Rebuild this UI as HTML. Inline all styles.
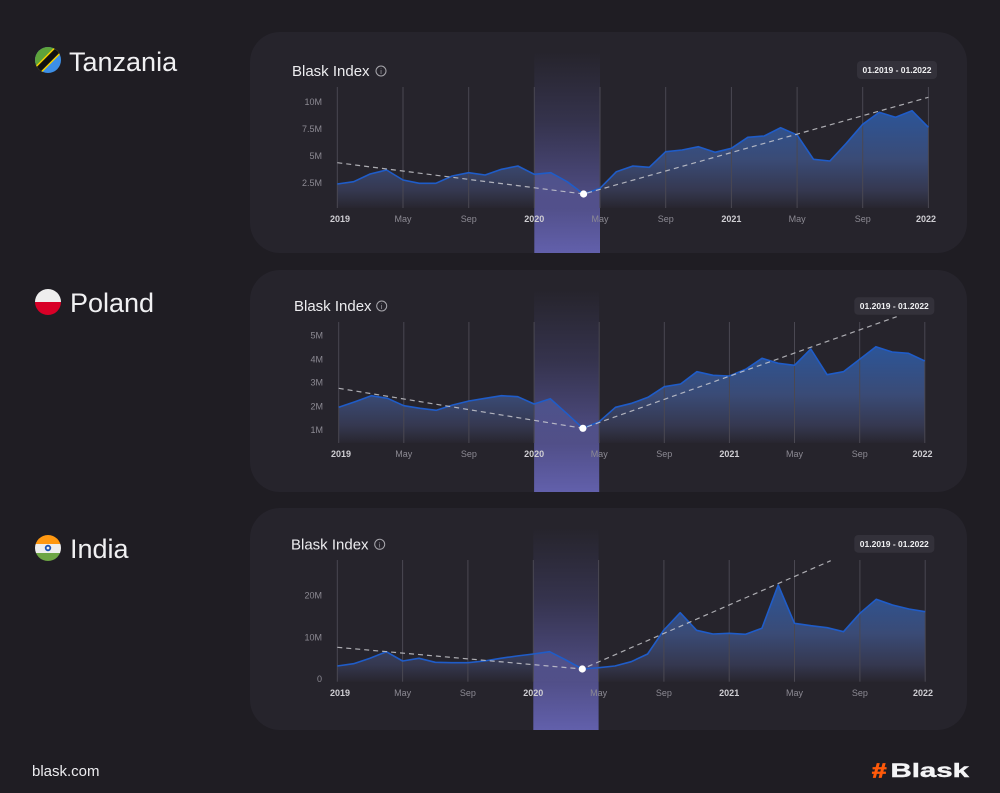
<!DOCTYPE html>
<html><head><meta charset="utf-8"><style>
html,body{margin:0;padding:0;background:#1f1d23;}
svg{display:block;}
text{font-family:"Liberation Sans",sans-serif;}
</style></head><body>
<svg width="1000" height="793" viewBox="0 0 1000 793" xmlns="http://www.w3.org/2000/svg">
<defs>
<linearGradient id="fill" x1="0" y1="0" x2="0" y2="1">
<stop offset="0" stop-color="#2c5598"/>
<stop offset="0.5" stop-color="#3a4b76"/>
<stop offset="0.82" stop-color="#353850"/>
<stop offset="1" stop-color="#28262f"/>
</linearGradient>
<linearGradient id="band" x1="0" y1="0" x2="0" y2="1">
<stop offset="0" stop-color="#6260b0" stop-opacity="0"/>
<stop offset="0.35" stop-color="#6260b0" stop-opacity="0.25"/>
<stop offset="1" stop-color="#6563b2" stop-opacity="0.95"/>
</linearGradient>
<clipPath id="tzc"><circle cx="48" cy="60" r="13"/></clipPath>
<clipPath id="plc"><circle cx="48" cy="302" r="13"/></clipPath>
<clipPath id="inc"><circle cx="48" cy="548" r="13"/></clipPath>
</defs>
<rect width="1000" height="793" fill="#1f1d23"/>

<!-- Left titles -->
<g clip-path="url(#tzc)">
<rect x="35" y="47" width="26" height="26" fill="#3d8fe6"/>
<polygon points="35,47 61,47 35,73" fill="#5ea33b"/>
<line x1="33" y1="75" x2="63" y2="45" stroke="#f5d000" stroke-width="9"/>
<line x1="33" y1="75" x2="63" y2="45" stroke="#111" stroke-width="6"/>
</g>
<text x="69" y="71" font-size="27" font-weight="500" fill="#f0f0f2">Tanzania</text>

<g clip-path="url(#plc)">
<rect x="35" y="289" width="26" height="13" fill="#eeeeee"/>
<rect x="35" y="302" width="26" height="13" fill="#d80027"/>
</g>
<text x="70" y="312" font-size="27" font-weight="500" fill="#f0f0f2">Poland</text>

<g clip-path="url(#inc)">
<rect x="35" y="535" width="26" height="9" fill="#ff9811"/>
<rect x="35" y="544" width="26" height="9" fill="#eeeeee"/>
<rect x="35" y="553" width="26" height="9" fill="#6da544"/>
<circle cx="48" cy="548" r="3.2" fill="#1a4fb0"/>
<circle cx="48" cy="548" r="1.4" fill="#eeeeee"/>
</g>
<text x="70" y="558" font-size="27" font-weight="500" fill="#f0f0f2">India</text>

<!-- ============ PANEL 1 ============ -->
<rect x="250" y="32" width="717" height="221" rx="30" fill="#26242c"/>
<text x="292" y="76" font-size="15" fill="#ececef">Blask Index</text>
<circle cx="381" cy="71" r="5" fill="none" stroke="#a8a7ad" stroke-width="1"/>
<text x="381" y="74" font-size="7" fill="#a8a7ad" text-anchor="middle">i</text>
<rect x="857" y="61" width="80" height="18" rx="4" fill="#33313a"/>
<text x="897" y="73" font-size="8.5" font-weight="bold" fill="#f0f0f2" text-anchor="middle">01.2019 - 01.2022</text>
<path d="M337.3,184 L353.7,181.7 L370.1,174 L386.6,170 L403,180 L419.4,183.3 L435.8,183.3 L452.2,176 L468.7,172.7 L485.1,175 L501.5,169.3 L517.9,166 L534.3,174.3 L550.8,172.7 L567.2,181.7 L583.6,194 L600,188.3 L616.4,171.7 L632.9,166 L649.3,167.3 L665.7,151.7 L682.1,150 L698.5,146.7 L715,152.3 L731.4,148.3 L747.8,137.3 L764.2,136 L780.6,127.7 L797.1,135 L813.5,159.3 L829.9,161 L846.3,143.3 L862.7,124.3 L879.2,112.3 L895.6,117.3 L912,110.7 L928.4,127.3 L928.4,208 L337.3,208 Z" fill="url(#fill)"/>
<rect x="534.3" y="52" width="65.7" height="201" fill="url(#band)"/>
<g stroke="#4a4852" stroke-width="1">
<line x1="337.3" y1="87" x2="337.3" y2="208"/><line x1="403" y1="87" x2="403" y2="208"/><line x1="468.7" y1="87" x2="468.7" y2="208"/><line x1="534.3" y1="87" x2="534.3" y2="208"/><line x1="600" y1="87" x2="600" y2="208"/><line x1="665.7" y1="87" x2="665.7" y2="208"/><line x1="731.4" y1="87" x2="731.4" y2="208"/><line x1="797.1" y1="87" x2="797.1" y2="208"/><line x1="862.7" y1="87" x2="862.7" y2="208"/><line x1="928.4" y1="87" x2="928.4" y2="208"/>
</g>
<polyline points="337.3,184 353.7,181.7 370.1,174 386.6,170 403,180 419.4,183.3 435.8,183.3 452.2,176 468.7,172.7 485.1,175 501.5,169.3 517.9,166 534.3,174.3 550.8,172.7 567.2,181.7 583.6,194 600,188.3 616.4,171.7 632.9,166 649.3,167.3 665.7,151.7 682.1,150 698.5,146.7 715,152.3 731.4,148.3 747.8,137.3 764.2,136 780.6,127.7 797.1,135 813.5,159.3 829.9,161 846.3,143.3 862.7,124.3 879.2,112.3 895.6,117.3 912,110.7 928.4,127.3" fill="none" stroke="#1f5cc8" stroke-width="1.6" stroke-linejoin="round"/>
<polyline points="337.3,162.7 583.6,194 928.4,97.3" fill="none" stroke="#cfcfd4" stroke-opacity="0.8" stroke-width="1.2" stroke-dasharray="5 4"/>
<circle cx="583.6" cy="194" r="3.6" fill="#ffffff"/>
<g font-size="9" fill="#8c8a93" text-anchor="end">
<text x="322" y="105">10M</text><text x="322" y="132">7.5M</text><text x="322" y="159">5M</text><text x="322" y="186">2.5M</text>
</g>
<g font-size="9" text-anchor="middle">
<text x="340" y="222" fill="#cfced3" font-weight="bold">2019</text>
<text x="403" y="222" fill="#8c8a93">May</text>
<text x="468.7" y="222" fill="#8c8a93">Sep</text>
<text x="534.3" y="222" fill="#cfced3" font-weight="bold">2020</text>
<text x="600" y="222" fill="#8c8a93">May</text>
<text x="665.7" y="222" fill="#8c8a93">Sep</text>
<text x="731.4" y="222" fill="#cfced3" font-weight="bold">2021</text>
<text x="797.1" y="222" fill="#8c8a93">May</text>
<text x="862.7" y="222" fill="#8c8a93">Sep</text>
<text x="926" y="222" fill="#cfced3" font-weight="bold">2022</text>
</g>

<!-- ============ PANEL 2 ============ -->
<rect x="250" y="270" width="717" height="222" rx="30" fill="#26242c"/>
<text x="294" y="311" font-size="15" fill="#ececef">Blask Index</text>
<circle cx="381.7" cy="306" r="5" fill="none" stroke="#a8a7ad" stroke-width="1"/>
<text x="381.7" y="309" font-size="7" fill="#a8a7ad" text-anchor="middle">i</text>
<rect x="854.3" y="297.3" width="80" height="17.5" rx="4" fill="#33313a"/>
<text x="894.3" y="309" font-size="8.5" font-weight="bold" fill="#f0f0f2" text-anchor="middle">01.2019 - 01.2022</text>
<path d="M338.7,407.3 L355,401.7 L371.3,395.7 L387.5,398.3 L403.8,405.7 L420.1,408.3 L436.4,410.3 L452.7,405 L468.9,401 L485.2,398.3 L501.5,395.7 L517.8,396.7 L534.1,404 L550.3,398.7 L566.6,413.3 L582.9,428.3 L599.2,421.7 L615.5,407.3 L631.7,403.3 L648,397.3 L664.3,386.7 L680.6,384 L696.9,371.7 L713.1,375.3 L729.4,376 L745.7,369.3 L762,358.3 L778.3,363.3 L794.5,365.3 L810.8,349 L827.1,374.7 L843.4,371.7 L859.7,359.3 L875.9,346.7 L892.2,352 L908.5,353.3 L924.8,361 L924.8,443 L338.7,443 Z" fill="url(#fill)"/>
<rect x="534.1" y="290" width="65.1" height="202" fill="url(#band)"/>
<g stroke="#4a4852" stroke-width="1">
<line x1="338.7" y1="322" x2="338.7" y2="443"/><line x1="403.8" y1="322" x2="403.8" y2="443"/><line x1="468.9" y1="322" x2="468.9" y2="443"/><line x1="534.1" y1="322" x2="534.1" y2="443"/><line x1="599.2" y1="322" x2="599.2" y2="443"/><line x1="664.3" y1="322" x2="664.3" y2="443"/><line x1="729.4" y1="322" x2="729.4" y2="443"/><line x1="794.5" y1="322" x2="794.5" y2="443"/><line x1="859.7" y1="322" x2="859.7" y2="443"/><line x1="924.8" y1="322" x2="924.8" y2="443"/>
</g>
<polyline points="338.7,407.3 355,401.7 371.3,395.7 387.5,398.3 403.8,405.7 420.1,408.3 436.4,410.3 452.7,405 468.9,401 485.2,398.3 501.5,395.7 517.8,396.7 534.1,404 550.3,398.7 566.6,413.3 582.9,428.3 599.2,421.7 615.5,407.3 631.7,403.3 648,397.3 664.3,386.7 680.6,384 696.9,371.7 713.1,375.3 729.4,376 745.7,369.3 762,358.3 778.3,363.3 794.5,365.3 810.8,349 827.1,374.7 843.4,371.7 859.7,359.3 875.9,346.7 892.2,352 908.5,353.3 924.8,361" fill="none" stroke="#1f5cc8" stroke-width="1.6" stroke-linejoin="round"/>
<polyline points="338.7,388.3 582.9,428.3 896.7,316.7" fill="none" stroke="#cfcfd4" stroke-opacity="0.8" stroke-width="1.2" stroke-dasharray="5 4"/>
<circle cx="582.9" cy="428.3" r="3.6" fill="#ffffff"/>
<g font-size="9" fill="#8c8a93" text-anchor="end">
<text x="323" y="338.7">5M</text><text x="323" y="362.3">4M</text><text x="323" y="385.7">3M</text><text x="323" y="409.7">2M</text><text x="323" y="433">1M</text>
</g>
<g font-size="9" text-anchor="middle">
<text x="341" y="457" fill="#cfced3" font-weight="bold">2019</text>
<text x="403.8" y="457" fill="#8c8a93">May</text>
<text x="468.9" y="457" fill="#8c8a93">Sep</text>
<text x="534.1" y="457" fill="#cfced3" font-weight="bold">2020</text>
<text x="599.2" y="457" fill="#8c8a93">May</text>
<text x="664.3" y="457" fill="#8c8a93">Sep</text>
<text x="729.4" y="457" fill="#cfced3" font-weight="bold">2021</text>
<text x="794.5" y="457" fill="#8c8a93">May</text>
<text x="859.7" y="457" fill="#8c8a93">Sep</text>
<text x="922.5" y="457" fill="#cfced3" font-weight="bold">2022</text>
</g>

<!-- ============ PANEL 3 ============ -->
<rect x="250" y="508" width="717" height="222" rx="30" fill="#26242c"/>
<text x="291" y="549.5" font-size="15" fill="#ececef">Blask Index</text>
<circle cx="379.7" cy="544.3" r="5" fill="none" stroke="#a8a7ad" stroke-width="1"/>
<text x="379.7" y="547.3" font-size="7" fill="#a8a7ad" text-anchor="middle">i</text>
<rect x="854.3" y="535" width="80" height="17.7" rx="4" fill="#33313a"/>
<text x="894.3" y="547" font-size="8.5" font-weight="bold" fill="#f0f0f2" text-anchor="middle">01.2019 - 01.2022</text>
<path d="M337.3,666 L353.6,663.7 L370,658.3 L386.3,651.7 L402.6,661 L419,658.3 L435.3,662.3 L451.6,662.7 L467.9,662.7 L484.3,661 L500.6,658.3 L516.9,656 L533.3,654 L549.6,651.7 L565.9,660 L582.3,669 L598.6,667.7 L614.9,666 L631.2,661.7 L647.6,654 L663.9,630 L680.2,612.7 L696.6,630.3 L712.9,634 L729.2,633.3 L745.6,634.3 L761.9,628.3 L778.2,585 L794.5,623.3 L810.9,625.7 L827.2,627.7 L843.5,631.7 L859.9,613.3 L876.2,599.3 L892.5,605 L908.9,609 L925.2,611.7 L925.2,681.7 L337.3,681.7 Z" fill="url(#fill)"/>
<rect x="533.3" y="528" width="65.3" height="202" fill="url(#band)"/>
<g stroke="#4a4852" stroke-width="1">
<line x1="337.3" y1="560" x2="337.3" y2="681.7"/><line x1="402.6" y1="560" x2="402.6" y2="681.7"/><line x1="467.9" y1="560" x2="467.9" y2="681.7"/><line x1="533.3" y1="560" x2="533.3" y2="681.7"/><line x1="598.6" y1="560" x2="598.6" y2="681.7"/><line x1="663.9" y1="560" x2="663.9" y2="681.7"/><line x1="729.2" y1="560" x2="729.2" y2="681.7"/><line x1="794.5" y1="560" x2="794.5" y2="681.7"/><line x1="859.9" y1="560" x2="859.9" y2="681.7"/><line x1="925.2" y1="560" x2="925.2" y2="681.7"/>
</g>
<polyline points="337.3,666 353.6,663.7 370,658.3 386.3,651.7 402.6,661 419,658.3 435.3,662.3 451.6,662.7 467.9,662.7 484.3,661 500.6,658.3 516.9,656 533.3,654 549.6,651.7 565.9,660 582.3,669 598.6,667.7 614.9,666 631.2,661.7 647.6,654 663.9,630 680.2,612.7 696.6,630.3 712.9,634 729.2,633.3 745.6,634.3 761.9,628.3 778.2,585 794.5,623.3 810.9,625.7 827.2,627.7 843.5,631.7 859.9,613.3 876.2,599.3 892.5,605 908.9,609 925.2,611.7" fill="none" stroke="#1f5cc8" stroke-width="1.6" stroke-linejoin="round"/>
<polyline points="337.3,647.3 582.3,669 830.7,560.7" fill="none" stroke="#cfcfd4" stroke-opacity="0.8" stroke-width="1.2" stroke-dasharray="5 4"/>
<circle cx="582.3" cy="669" r="3.6" fill="#ffffff"/>
<g font-size="9" fill="#8c8a93" text-anchor="end">
<text x="322" y="598.7">20M</text><text x="322" y="640.7">10M</text><text x="322" y="682">0</text>
</g>
<g font-size="9" text-anchor="middle">
<text x="340" y="696" fill="#cfced3" font-weight="bold">2019</text>
<text x="402.6" y="696" fill="#8c8a93">May</text>
<text x="467.9" y="696" fill="#8c8a93">Sep</text>
<text x="533.3" y="696" fill="#cfced3" font-weight="bold">2020</text>
<text x="598.6" y="696" fill="#8c8a93">May</text>
<text x="663.9" y="696" fill="#8c8a93">Sep</text>
<text x="729.2" y="696" fill="#cfced3" font-weight="bold">2021</text>
<text x="794.5" y="696" fill="#8c8a93">May</text>
<text x="859.9" y="696" fill="#8c8a93">Sep</text>
<text x="923" y="696" fill="#cfced3" font-weight="bold">2022</text>
</g>

<!-- Footer -->
<text x="32" y="776" font-size="15" fill="#ececef">blask.com</text>
<text x="0" y="0" font-size="20" font-weight="bold" fill="#ff5a0a" stroke="#ff5a0a" stroke-width="0.8" transform="translate(872,777.5) scale(1.3,1)">#</text>
<text x="0" y="0" font-size="19" font-weight="bold" fill="#f4f4f6" stroke="#f4f4f6" stroke-width="0.4" transform="translate(890.5,777) scale(1.55,1)">Blask</text>
</svg>
</body></html>
